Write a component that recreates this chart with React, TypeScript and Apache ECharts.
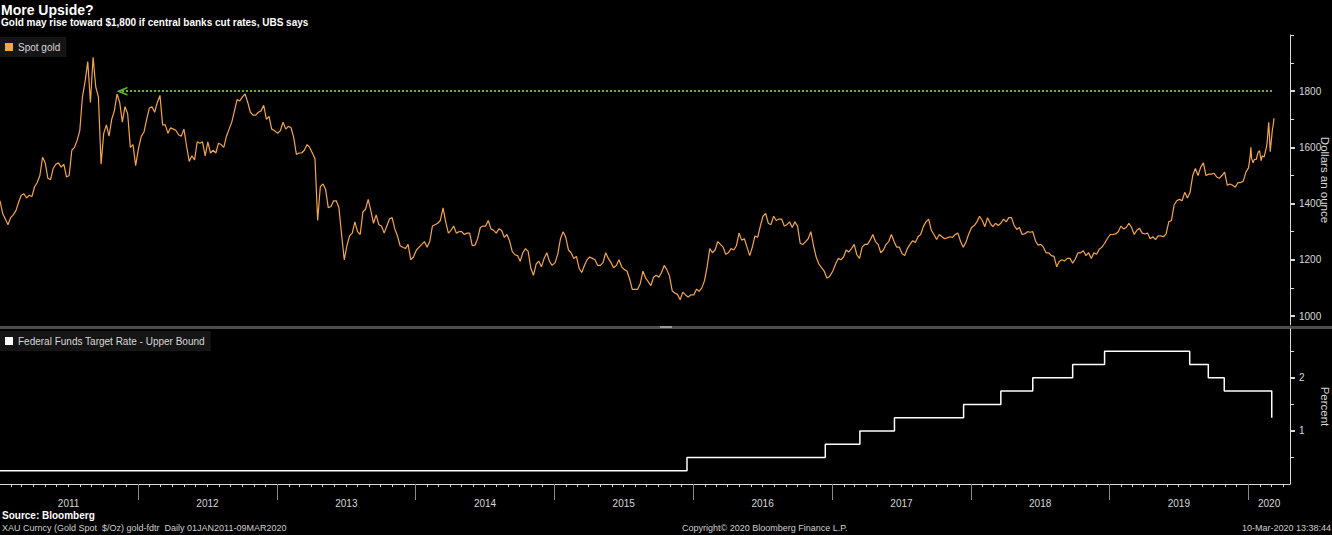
import React, { useEffect, useRef } from "react";
import * as echarts from "echarts";

// Spot gold, weekly readings ($/oz), one array per calendar year
const gold2011 = [1410,1365,1345,1325,1350, 1360,1375,1405,1430, 1435,1420,1430,1425, 1460,1475,1500,1565, 1545,1490,1485,1525,1540, 1545,1530,1540,1495, 1500,1590,1600,1625, 1660,1780,1835,1905,1760, 1921,1815,1780,1540, 1650,1680,1640,1700,1730, 1790,1760,1690,1745, 1720,1600,1610,1535];
const gold2012 = [1600,1640,1655,1700,1740, 1745,1725,1760,1785, 1680,1680,1650,1670, 1665,1660,1645,1640, 1665,1605,1550,1570,1555, 1620,1615,1620,1570, 1620,1580,1590,1580,1615, 1610,1600,1640,1665, 1690,1730,1770,1765, 1780,1790,1760,1725,1715, 1715,1725,1730,1750, 1700,1710,1665,1660];
const gold2013 = [1650,1660,1690,1665,1675, 1670,1635,1575,1580, 1580,1590,1610,1600, 1580,1560,1340,1460, 1470,1450,1385,1390,1410, 1410,1385,1290,1200, 1250,1285,1295,1335, 1300,1290,1370,1380,1415, 1375,1330,1360,1325, 1320,1295,1320,1345,1350, 1310,1285,1250,1245, 1240,1255,1200,1210];
const gold2014 = [1235,1245,1255,1265,1245, 1265,1320,1325,1330, 1340,1385,1335,1295, 1305,1320,1295,1300, 1300,1290,1295,1295,1250, 1252,1275,1315,1320, 1320,1340,1310,1305, 1295,1310,1305,1280,1290, 1268,1230,1218,1215, 1195,1225,1240,1230,1170, 1145,1185,1195,1175, 1205,1225,1195,1180];
const gold2015 = [1190,1220,1275,1300,1280, 1235,1225,1205,1212, 1170,1155,1180,1200, 1210,1205,1200,1180, 1180,1190,1225,1205,1190, 1172,1180,1200,1175, 1165,1160,1132,1095, 1095,1095,1115,1160,1135, 1122,1108,1138,1145, 1138,1155,1180,1165,1142, 1090,1082,1077,1058, 1085,1075,1068,1075];
const gold2016 = [1075,1095,1088,1100,1125, 1175,1240,1225,1235, 1265,1255,1245,1220, 1225,1240,1235,1250, 1295,1270,1275,1245,1215, 1245,1285,1280,1320, 1355,1365,1330,1325,1355, 1340,1345,1345,1320, 1325,1335,1315,1335, 1320,1258,1255,1265,1275, 1300,1250,1210,1185, 1172,1160,1135,1140];
const gold2017 = [1160,1185,1205,1200,1210, 1235,1228,1240,1255, 1218,1205,1245,1255, 1255,1270,1290,1265, 1255,1225,1235,1255,1265, 1290,1265,1245,1245, 1222,1215,1240,1255, 1268,1262,1282,1290,1318, 1335,1345,1305,1290, 1272,1290,1282,1275,1278, 1282,1280,1290,1295, 1265,1245,1262,1290];
const gold2018 = [1315,1322,1335,1355,1340, 1318,1350,1330,1318, 1330,1322,1330,1345, 1335,1350,1350,1322, 1308,1315,1290,1292,1300, 1298,1300,1268,1252, 1255,1245,1225,1225, 1215,1212,1175,1195,1200, 1196,1205,1205,1188, 1203,1225,1225,1232,1215, 1225,1205,1225,1220, 1238,1245,1258,1275];
const gold2019 = [1290,1290,1292,1300,1320, 1310,1315,1330,1315, 1290,1305,1312,1295, 1292,1295,1275,1282, 1272,1285,1285,1282,1292, 1335,1340,1395,1410, 1415,1410,1440,1420, 1440,1500,1525,1500,1530, 1545,1500,1505,1505, 1508,1495,1490,1500,1512, 1465,1470,1465,1458, 1475,1475,1480,1512];
const gold2020Dates = ["2020-01-02","2020-01-06","2020-01-08","2020-01-10","2020-01-14","2020-01-17","2020-01-22","2020-01-27","2020-01-31","2020-02-04","2020-02-07","2020-02-12","2020-02-18","2020-02-20","2020-02-24","2020-02-26","2020-02-28","2020-03-03","2020-03-05","2020-03-06","2020-03-09"];
const gold2020 = [1528,1566,1600,1560,1545,1557,1557,1582,1588,1553,1570,1566,1601,1620,1689,1640,1585,1640,1668,1672,1704];

// Federal Funds Target Rate - Upper Bound (%), effective dates of changes
const fedDates = ["2011-01-03","2015-12-16","2016-12-14","2017-03-15","2017-06-14","2017-12-13","2018-03-21","2018-06-13","2018-09-26","2018-12-19","2019-07-31","2019-09-18","2019-10-30","2020-03-03"];
const fedUpperBound = [0.25,0.5,0.75,1.0,1.25,1.5,1.75,2.0,2.25,2.5,2.25,2.0,1.75,1.25];

const yearLabels = ["2011","2012","2013","2014","2015","2016","2017","2018","2019","2020"];
const goldTicks = [1000,1200,1400,1600,1800];
const goldMinorTicks = [1100,1300,1500,1700,1900,2000];
const rateTicks = [1,2];
const rateMinorTicks = [0.5,1.5,2.5];
const ubsTarget = 1800;
const targetFrom = "2011-11-20";
const targetTo = "2020-03-06";

const ts = (s: string) => {
  const [y, m, d] = s.split("-").map(Number);
  return Date.UTC(y, m - 1, d);
};

export default function App() {
  const ref = useRef<HTMLDivElement>(null);

  useEffect(() => {
    document.body.style.margin = "0";
    document.body.style.background = "#000";
    const el = ref.current!;
    const chart = echarts.init(el, null, { renderer: "svg" });

    const years: [number, number[]][] = [
      [2011, gold2011],[2012, gold2012],[2013, gold2013],[2014, gold2014],[2015, gold2015],
      [2016, gold2016],[2017, gold2017],[2018, gold2018],[2019, gold2019],
    ];
    const goldData: [number, number][] = [];
    years.forEach(([y, arr]) => arr.forEach((v, i) => goldData.push([Date.UTC(y, 0, 3 + 7 * i), v])));
    gold2020.forEach((v, i) => goldData.push([ts(gold2020Dates[i]), v]));

    const fedData = fedDates.map((d, i) => [ts(d), fedUpperBound[i]]);

    const xMin = Date.UTC(2011, 0, 3);
    const xMax = Date.UTC(2020, 3, 20);
    const yearStarts = yearLabels.slice(1).map((y) => Date.UTC(+y, 0, 1));
    const yearMids = yearLabels.map((y) => {
      const a = Date.UTC(+y, 0, 1);
      const b = Math.min(Date.UTC(+y + 1, 0, 1), xMax);
      return (a + b) / 2;
    });
    const monthTicks: number[] = [];
    for (let y = 2011; y <= 2020; y++) for (let m = 0; m < 12; m++) {
      const t = Date.UTC(y, m, 1);
      if (t >= xMin && t <= xMax) monthTicks.push(t);
    }

    const axisCol = "#d8d8d8";
    const font = "'Liberation Sans', Arial, sans-serif";

    chart.setOption({
      animation: false,
      backgroundColor: "#000",
      textStyle: { fontFamily: font },
      grid: [
        { left: 0, right: 42, top: 35, height: 290, outerBoundsMode: "none" },
        { left: 0, right: 42, top: 329, height: 155, outerBoundsMode: "none" },
      ],
      legend: [
        {
          data: ["Spot gold"], left: 0, top: 37, icon: "rect", itemWidth: 8, itemHeight: 8,
          padding: [5, 6, 5, 5], backgroundColor: "#151515", selectedMode: false,
          textStyle: { color: axisCol, fontSize: 10, fontFamily: font },
        },
        {
          data: ["Federal Funds Target Rate - Upper Bound"], left: 0, top: 331, icon: "rect",
          itemWidth: 8, itemHeight: 8, padding: [5, 6, 5, 5], backgroundColor: "#151515",
          selectedMode: false, textStyle: { color: axisCol, fontSize: 10, fontFamily: font },
        },
      ],
      xAxis: [
        { type: "value", gridIndex: 0, min: xMin, max: xMax, show: false },
        {
          type: "value", gridIndex: 1, min: xMin, max: xMax,
          axisLine: { lineStyle: { color: axisCol, width: 1 } },
          axisTick: { show: true, customValues: monthTicks, length: 3, lineStyle: { color: axisCol } },
          axisLabel: {
            customValues: yearMids, margin: 14, color: axisCol, fontSize: 10,
            formatter: (v: number) => String(new Date(v).getUTCFullYear()),
          },
          splitLine: { show: false },
        },
        {
          type: "value", gridIndex: 1, min: xMin, max: xMax, position: "bottom", offset: 9,
          axisLine: { show: false },
          axisTick: { show: true, customValues: yearStarts, length: 16, lineStyle: { color: "#8a8a8a" } },
          axisLabel: { show: false },
          splitLine: { show: false },
        },
      ],
      yAxis: [
        {
          type: "value", gridIndex: 0, position: "right", min: 968, max: 2000,
          axisLine: { show: true, lineStyle: { color: axisCol } },
          axisTick: { show: true, customValues: goldTicks, length: 5, lineStyle: { color: axisCol, width: 2 } },
          axisLabel: { customValues: goldTicks, margin: 9, color: axisCol, fontSize: 10, formatter: (v: number) => String(v) },
          splitLine: { show: false },
          name: "Dollars an ounce", nameLocation: "middle", nameRotate: -90, nameGap: 29,
          nameMoveOverlap: false,
          nameTextStyle: { color: axisCol, fontSize: 11.5 },
        },
        {
          type: "value", gridIndex: 0, position: "right", min: 968, max: 2000,
          axisLine: { show: false },
          axisTick: { show: true, customValues: goldMinorTicks, length: 4, lineStyle: { color: axisCol } },
          axisLabel: { show: false }, splitLine: { show: false },
        },
        {
          type: "value", gridIndex: 1, position: "right", min: 0, max: 2.92,
          axisLine: { show: true, lineStyle: { color: axisCol } },
          axisTick: { show: true, customValues: rateTicks, length: 5, lineStyle: { color: axisCol, width: 2 } },
          axisLabel: { customValues: rateTicks, margin: 9, color: axisCol, fontSize: 10, formatter: (v: number) => String(v) },
          splitLine: { show: false },
          name: "Percent", nameLocation: "middle", nameRotate: -90, nameGap: 29,
          nameMoveOverlap: false,
          nameTextStyle: { color: axisCol, fontSize: 11.5 },
        },
        {
          type: "value", gridIndex: 1, position: "right", min: 0, max: 2.92,
          axisLine: { show: false },
          axisTick: { show: true, customValues: rateMinorTicks, length: 4, lineStyle: { color: axisCol } },
          axisLabel: { show: false }, splitLine: { show: false },
        },
      ],
      series: [
        {
          name: "Spot gold", type: "line", xAxisIndex: 0, yAxisIndex: 0, data: goldData,
          showSymbol: false, symbol: "none", color: "#f5a54a",
          lineStyle: { color: "#f5a54a", width: 1.2 }, silent: true,
          markLine: {
            silent: true, animation: false,
            lineStyle: { color: "#62b52f", type: [2, 2], width: 2 },
            label: { show: false },
            data: [[
              { coord: [ts(targetFrom), ubsTarget], symbol: "path://M0,9 L5,0 L10,9 L8,9 L5,3.5 L2,9 Z", symbolSize: [9, 11] },
              { coord: [ts(targetTo), ubsTarget], symbol: "none" },
            ]],
          },
        },
        {
          name: "Federal Funds Target Rate - Upper Bound", type: "line", xAxisIndex: 1, yAxisIndex: 2,
          data: fedData, step: "end", showSymbol: false, symbol: "none", color: "#ffffff",
          lineStyle: { color: "#ffffff", width: 1.5 }, silent: true,
        },
      ],
      graphic: [
        { type: "rect", left: 0, top: 326, shape: { width: 1332, height: 3 }, style: { fill: "#4d4d4d" } },
        { type: "rect", left: 660, top: 326, shape: { width: 12, height: 2 }, style: { fill: "#9a9a9a" } },
        { type: "text", left: 1, top: 3, style: { text: "More Upside?", fill: "#ffffff", font: `bold 14px ${font}` } },
        { type: "text", left: 1, top: 17, style: { text: "Gold may rise toward $1,800 if central banks cut rates, UBS says", fill: "#ffffff", font: `bold 10px ${font}` } },
        { type: "text", left: 2, top: 510, style: { text: "Source: Bloomberg", fill: "#ffffff", font: `bold 10px ${font}` } },
        { type: "text", left: 2, top: 523, style: { text: "XAU Curncy (Gold Spot  $/Oz) gold-fdtr  Daily 01JAN2011-09MAR2020", fill: "#cfcfcf", font: `9px ${font}` } },
        { type: "text", left: 682, top: 523, style: { text: "Copyright\u00a9 2020 Bloomberg Finance L.P.", fill: "#cfcfcf", font: `9px ${font}` } },
        { type: "text", right: 1, top: 523, style: { text: "10-Mar-2020 13:38:44", fill: "#cfcfcf", font: `9px ${font}` } },
      ],
    });

    return () => chart.dispose();
  }, []);

  return <div ref={ref} style={{ width: 1332, height: 535, background: "#000" }} />;
}
